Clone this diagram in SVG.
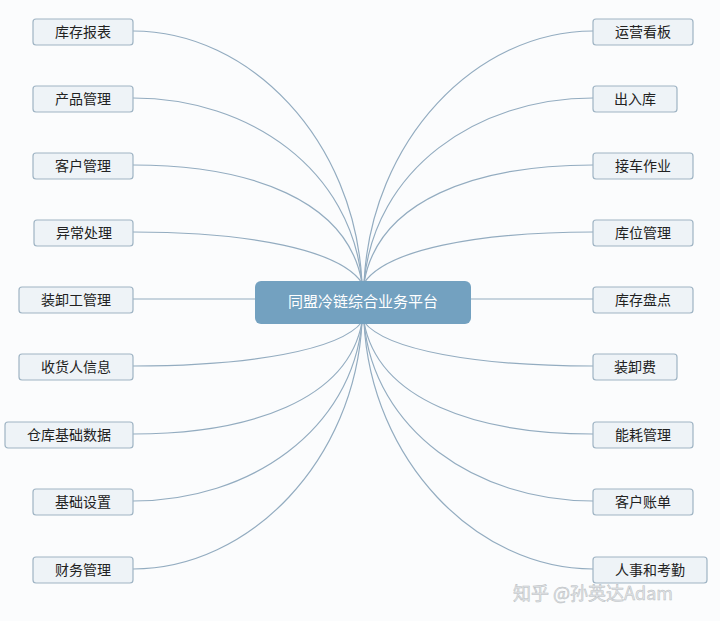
<svg xmlns="http://www.w3.org/2000/svg" width="720" height="621" viewBox="0 0 720 621">
<style>
.n rect{fill:#eef3f7;stroke:#9fb4c4;stroke-width:1.2}
.n text{font-family:"Noto Sans CJK SC","Liberation Sans",sans-serif;font-size:14px;fill:#222;text-anchor:middle;dominant-baseline:central}
.c path{fill:none;stroke:#93acc0;stroke-width:1.2}
</style>
<rect width="720" height="621" fill="#fbfcfd"/>
<g class="c">
<path d="M133,31 C250,31 355,140 362,283"/>
<path d="M133,98 C250,98 352,170 362,283"/>
<path d="M133,165 C250,165 348,200 362,283"/>
<path d="M133,232 C250,232 340,250 362,283"/>
<path d="M133,299 L255,299"/>
<path d="M133,366 C250,366 340,350 362,322"/>
<path d="M133,434 C250,434 348,400 362,322"/>
<path d="M133,501 C250,501 352,430 362,322"/>
<path d="M133,569 C250,569 355,460 362,322"/>
<path d="M593,31 C476,31 371,140 364,283"/>
<path d="M593,98 C476,98 374,170 364,283"/>
<path d="M593,165 C476,165 378,200 364,283"/>
<path d="M593,232 C476,232 386,250 364,283"/>
<path d="M471,299 L593,299"/>
<path d="M593,366 C476,366 386,350 364,322"/>
<path d="M593,434 C476,434 378,400 364,322"/>
<path d="M593,501 C476,501 374,430 364,322"/>
<path d="M593,569 C476,569 371,460 364,322"/>
</g>
<g id="center"><rect x="255" y="281" width="216" height="43" rx="6" fill="#73a1c0"/><text x="363" y="300" font-family="Noto Sans CJK SC,sans-serif" font-size="15" fill="#fff" text-anchor="middle" dominant-baseline="central">同盟冷链综合业务平台</text></g>
<g id="l1" class="n"><rect x="33" y="19" width="100" height="26" rx="3"/><text x="83" y="31">库存报表</text></g>
<g id="l2" class="n"><rect x="33" y="86" width="100" height="26" rx="3"/><text x="83" y="98">产品管理</text></g>
<g id="l3" class="n"><rect x="33" y="153" width="100" height="26" rx="3"/><text x="83" y="165">客户管理</text></g>
<g id="l4" class="n"><rect x="34" y="220" width="99" height="26" rx="3"/><text x="84" y="232">异常处理</text></g>
<g id="l5" class="n"><rect x="19" y="287" width="114" height="26" rx="3"/><text x="76" y="299">装卸工管理</text></g>
<g id="l6" class="n"><rect x="19" y="354" width="114" height="26" rx="3"/><text x="76" y="366">收货人信息</text></g>
<g id="l7" class="n"><rect x="5" y="422" width="128" height="26" rx="3"/><text x="69" y="434">仓库基础数据</text></g>
<g id="l8" class="n"><rect x="33" y="489" width="100" height="26" rx="3"/><text x="83" y="501">基础设置</text></g>
<g id="l9" class="n"><rect x="33" y="557" width="100" height="26" rx="3"/><text x="83" y="569">财务管理</text></g>
<g id="r1" class="n"><rect x="593" y="19" width="100" height="26" rx="3"/><text x="643" y="31">运营看板</text></g>
<g id="r2" class="n"><rect x="593" y="86" width="84" height="26" rx="3"/><text x="635" y="98">出入库</text></g>
<g id="r3" class="n"><rect x="593" y="153" width="100" height="26" rx="3"/><text x="643" y="165">接车作业</text></g>
<g id="r4" class="n"><rect x="593" y="220" width="100" height="26" rx="3"/><text x="643" y="232">库位管理</text></g>
<g id="r5" class="n"><rect x="593" y="287" width="100" height="26" rx="3"/><text x="643" y="299">库存盘点</text></g>
<g id="r6" class="n"><rect x="593" y="354" width="84" height="26" rx="3"/><text x="635" y="366">装卸费</text></g>
<g id="r7" class="n"><rect x="593" y="422" width="100" height="26" rx="3"/><text x="643" y="434">能耗管理</text></g>
<g id="r8" class="n"><rect x="593" y="489" width="100" height="26" rx="3"/><text x="643" y="501">客户账单</text></g>
<g id="r9" class="n"><rect x="593" y="557" width="114" height="26" rx="3"/><text x="650" y="569">人事和考勤</text></g>
<text x="513" y="600" font-family="Noto Sans CJK SC,sans-serif" font-size="18" fill="#e4e7ea" stroke="#b8bcc0" stroke-width="0.5">知乎 @孙英达Adam</text>
</svg>
